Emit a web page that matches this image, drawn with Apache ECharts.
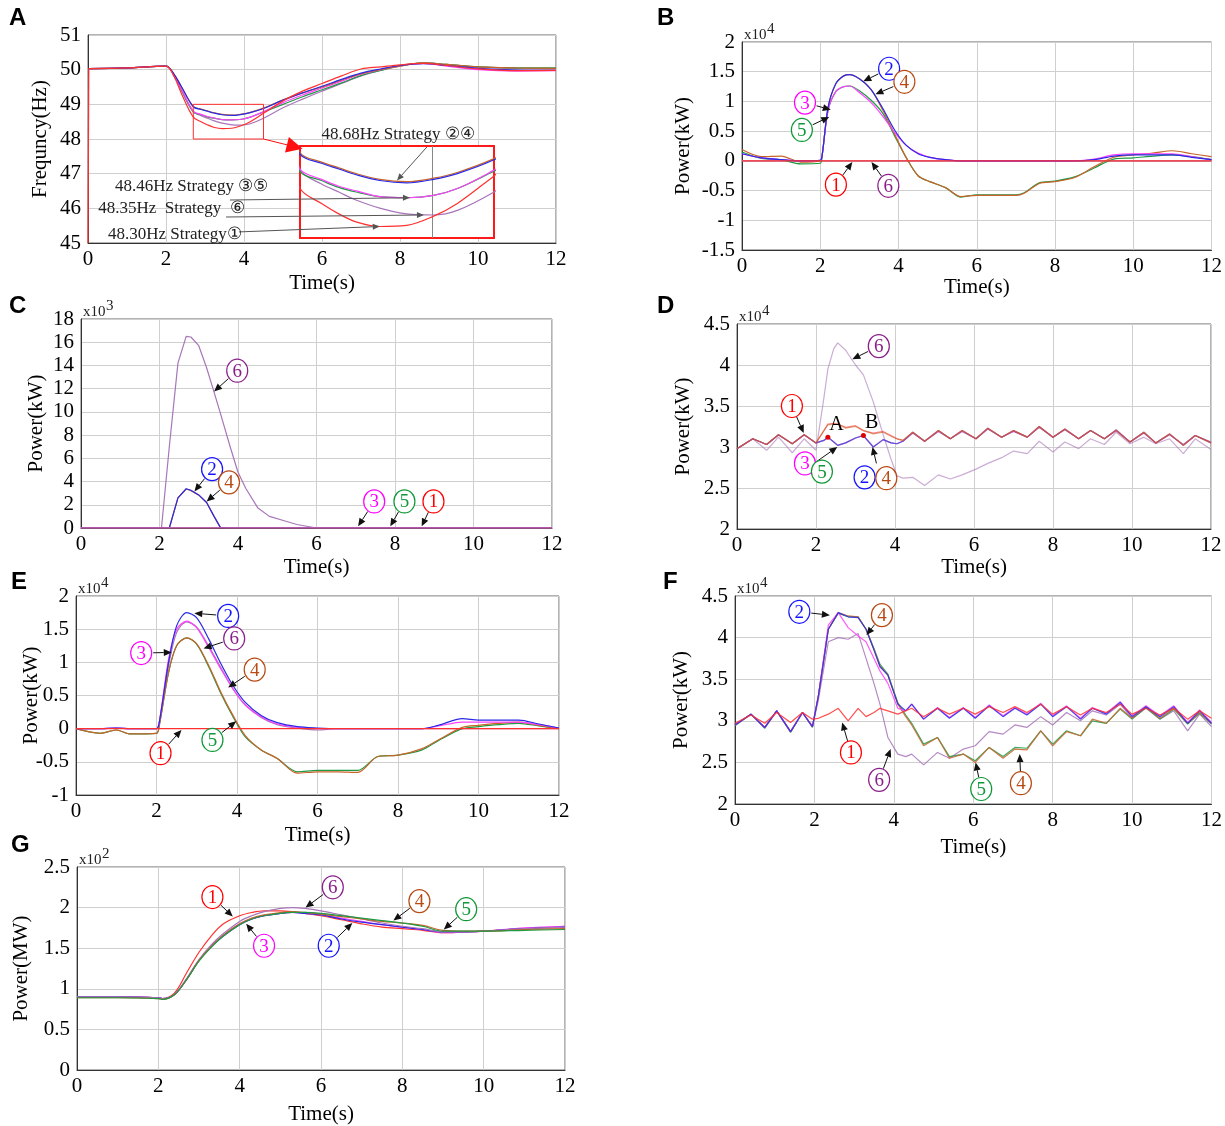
<!DOCTYPE html>
<html>
<head>
<meta charset="utf-8">
<script src="https://cdn.jsdelivr.net/npm/echarts@6/dist/echarts.min.js"></script>
<style>
html, body { margin: 0; padding: 0; background: #fff; }
#main { width: 1225px; height: 1126px; }
</style>
</head>
<body>
<div id="main"></div>
<script>
// ---- A: frequency (Hz) ----
const aStartTime = [0, 0.02];
const aStart = [45, 50.03];
const aTime = [0.02, 1, 2, 2.2, 2.4, 2.7, 2.9, 3.06, 3.22, 3.44, 3.69, 3.94, 4.16, 4.5, 5, 5.5, 6, 6.5, 7, 7.5, 8, 8.6, 9.2, 10, 11, 12];
const aS1 = [50.03, 50.05, 50.1, 49.82, 49.3, 48.63, 48.50, 48.41, 48.34, 48.30, 48.31, 48.39, 48.50, 48.74, 49.1, 49.38, 49.6, 49.82, 50.02, 50.08, 50.14, 50.18, 50.12, 50.02, 49.97, 49.98];
const aS2 = [50.03, 50.05, 50.1, 49.88, 49.5, 48.93, 48.85, 48.80, 48.75, 48.70, 48.68, 48.71, 48.76, 48.88, 49.12, 49.33, 49.52, 49.72, 49.9, 50.02, 50.12, 50.17, 50.12, 50.04, 49.99, 49.98];
const aS3 = [50.03, 50.05, 50.1, 49.85, 49.42, 48.80, 48.71, 48.65, 48.61, 48.56, 48.55, 48.57, 48.63, 48.79, 49.05, 49.27, 49.47, 49.67, 49.87, 50.0, 50.12, 50.18, 50.1, 50.0, 49.96, 49.97];
const aS4 = [50.03, 50.05, 50.1, 49.88, 49.5, 48.94, 48.86, 48.81, 48.76, 48.71, 48.69, 48.72, 48.77, 48.89, 49.13, 49.33, 49.5, 49.7, 49.88, 50.0, 50.1, 50.2, 50.15, 50.08, 50.05, 50.04];
const aS5 = [50.03, 50.05, 50.1, 49.85, 49.4, 48.78, 48.70, 48.64, 48.60, 48.56, 48.55, 48.57, 48.63, 48.78, 49.0, 49.22, 49.42, 49.62, 49.83, 49.98, 50.12, 50.2, 50.15, 50.08, 50.05, 50.05];
const aS6 = [50.03, 50.05, 50.1, 49.85, 49.4, 48.79, 48.67, 48.60, 48.53, 48.46, 48.41, 48.40, 48.44, 48.60, 48.9, 49.15, 49.38, 49.6, 49.82, 49.98, 50.1, 50.2, 50.15, 50.08, 50.03, 50.02];

// ---- B (x10^4 kW) ----
const bTime = [0, 0.5, 1, 1.5, 2, 2.05, 2.2, 2.4, 2.6, 2.75, 3.0, 3.3, 3.6, 3.9, 4.2, 4.5, 4.8, 5.2, 5.6, 6, 6.5, 7, 7.2, 7.6, 8, 8.5, 9, 9.5, 10, 10.5, 11, 11.5, 12];
const bS1 = [0, 0, 0, 0, 0, 0, 0, 0, 0, 0, 0, 0, 0, 0, 0, 0, 0, 0, 0, 0, 0, 0, 0, 0, 0, 0, 0, 0, 0, 0, 0, 0, 0];
const bS2 = [0.12, 0.05, 0.02, 0, 0.01, 0.1, 0.9, 1.3, 1.43, 1.45, 1.38, 1.2, 0.88, 0.52, 0.26, 0.12, 0.06, 0.02, 0, 0, 0, 0, 0, 0, 0, 0, 0.02, 0.08, 0.1, 0.1, 0.1, 0.06, 0.02];
const bS3 = [0.12, 0.05, 0.02, 0, 0.01, 0.1, 0.85, 1.17, 1.25, 1.26, 1.15, 0.98, 0.75, 0.48, 0.26, 0.13, 0.06, 0.02, 0, 0, 0, 0, 0, 0, 0, 0, 0.03, 0.1, 0.12, 0.12, 0.12, 0.07, 0.02];
const bS4 = [0.19, 0.07, 0.08, -0.02, 0, 0.1, 0.9, 1.3, 1.43, 1.45, 1.38, 1.2, 0.85, 0.45, 0.05, -0.25, -0.35, -0.45, -0.6, -0.58, -0.58, -0.58, -0.55, -0.38, -0.35, -0.28, -0.1, 0.06, 0.1, 0.13, 0.17, 0.12, 0.07];
const bS5 = [0.15, 0.04, 0.02, -0.05, -0.04, 0.1, 0.85, 1.17, 1.25, 1.26, 1.18, 1.02, 0.8, 0.42, 0.05, -0.25, -0.35, -0.45, -0.61, -0.57, -0.57, -0.57, -0.54, -0.37, -0.34, -0.27, -0.12, 0.03, 0.05, 0.08, 0.1, 0.07, 0.02];
const bS6 = [0, 0, 0, 0, 0, 0, 0, 0, 0, 0, 0, 0, 0, 0, 0, 0, 0, 0, 0, 0, 0, 0, 0, 0, 0, 0, 0, 0, 0, 0, 0, 0, 0];

// ---- C (x10^3 kW) ----
const cTime = [0, 2.05, 2.25, 2.47, 2.68, 2.8, 3.0, 3.2, 3.39, 3.55, 3.8, 4.0, 4.2, 4.5, 4.8, 5.2, 5.5, 6.0, 12];
const cS1 = [0, 0, 0, 0, 0, 0, 0, 0, 0, 0, 0, 0, 0, 0, 0, 0, 0, 0, 0];
const cS2 = [0, 0, 0, 2.6, 3.38, 3.25, 2.85, 2.2, 1.0, 0.05, 0, 0, 0, 0, 0, 0, 0, 0, 0];
const cS3 = [0, 0, 0, 0, 0, 0, 0, 0, 0, 0, 0, 0, 0, 0, 0, 0, 0, 0, 0];
const cS4 = [0, 0, 0, 2.6, 3.36, 3.22, 2.83, 2.2, 1.0, 0.05, 0, 0, 0, 0, 0, 0, 0, 0, 0];
const cS5 = [0, 0, 0, 0, 0, 0, 0, 0, 0, 0, 0, 0, 0, 0, 0, 0, 0, 0, 0];
const cS6 = [0, 0, 7, 14.2, 16.5, 16.45, 15.7, 13.8, 11.7, 9.9, 7.0, 4.8, 3.4, 1.75, 1.0, 0.6, 0.3, 0, 0];

// ---- D (x10^4 kW) ----
const dTime = [0, 0.4, 0.75, 1.05, 1.4, 1.7, 2.0, 2.2, 2.3, 2.45, 2.55, 2.75, 3.0, 3.2, 3.45, 3.7, 3.9, 4.05, 4.2, 4.45, 4.75, 5.1, 5.4, 5.7, 6.05, 6.35, 6.7, 7.0, 7.35, 7.65, 8.0, 8.3, 8.65, 8.95, 9.3, 9.6, 9.95, 10.3, 10.6, 10.95, 11.3, 11.6, 12];
const dS1 = [2.98, 3.1, 3.03, 3.15, 3.04, 3.15, 3.05, 3.2, 3.28, 3.29, 3.28, 3.24, 3.26, 3.2, 3.17, 3.19, 3.14, 3.1, 3.08, 3.18, 3.07, 3.2, 3.1, 3.2, 3.1, 3.23, 3.12, 3.2, 3.12, 3.25, 3.12, 3.22, 3.1, 3.2, 3.1, 3.2, 3.06, 3.18, 3.05, 3.16, 3.02, 3.14, 3.05];
const dS2 = [2.98, 3.1, 3.03, 3.15, 3.04, 3.15, 3.05, 3.08, 3.12, 3.06, 3.02, 3.05, 3.11, 3.14, 3.0, 3.09, 3.05, 3.04, 3.07, 3.18, 3.07, 3.2, 3.1, 3.2, 3.1, 3.23, 3.12, 3.2, 3.12, 3.25, 3.12, 3.22, 3.1, 3.2, 3.1, 3.2, 3.06, 3.18, 3.05, 3.16, 3.02, 3.14, 3.05];
const dS3 = [2.98, 3.1, 3.03, 3.15, 3.04, 3.15, 3.05, 3.08, 3.12, 3.06, 3.02, 3.05, 3.11, 3.14, 3.0, 3.09, 3.05, 3.04, 3.07, 3.17, 3.07, 3.19, 3.1, 3.19, 3.1, 3.22, 3.12, 3.19, 3.12, 3.24, 3.12, 3.21, 3.1, 3.2, 3.1, 3.21, 3.06, 3.17, 3.05, 3.15, 3.03, 3.14, 3.06];
const dS4 = [2.98, 3.1, 3.03, 3.15, 3.04, 3.15, 3.05, 3.2, 3.27, 3.28, 3.28, 3.23, 3.25, 3.2, 3.16, 3.18, 3.13, 3.1, 3.08, 3.18, 3.07, 3.2, 3.1, 3.2, 3.1, 3.23, 3.12, 3.2, 3.12, 3.25, 3.12, 3.22, 3.1, 3.2, 3.1, 3.2, 3.06, 3.18, 3.05, 3.16, 3.02, 3.14, 3.05];
const dS5 = [2.98, 3.1, 3.03, 3.15, 3.04, 3.15, 3.05, 3.08, 3.12, 3.06, 3.02, 3.05, 3.11, 3.14, 3.0, 3.09, 3.05, 3.04, 3.07, 3.17, 3.07, 3.19, 3.1, 3.19, 3.1, 3.22, 3.12, 3.19, 3.12, 3.24, 3.12, 3.21, 3.1, 3.2, 3.1, 3.21, 3.06, 3.17, 3.05, 3.15, 3.03, 3.14, 3.06];
const dS6 = [2.98, 3.1, 2.96, 3.12, 2.93, 3.1, 2.96, 3.6, 3.95, 4.2, 4.27, 4.18, 4.0, 3.88, 3.55, 3.15, 2.85, 2.65, 2.62, 2.63, 2.53, 2.66, 2.61, 2.66, 2.73, 2.8, 2.87, 2.95, 2.92, 3.07, 2.94, 3.06, 2.98, 3.1, 3.03, 3.18, 3.04, 3.12, 3.04, 3.1, 2.92, 3.1, 2.97];
const dMarks = [['A', 8], ['B', 13]];

// ---- E (x10^4 kW) ----
const eTime = [0, 0.6, 1.0, 1.35, 2.0, 2.07, 2.3, 2.5, 2.75, 3.0, 3.3, 3.6, 3.9, 4.2, 4.6, 5.0, 5.5, 6.0, 6.5, 7.0, 7.5, 8.0, 8.6, 9.0, 9.6, 10, 10.5, 11, 11.5, 12];
const eS1 = [0, 0, 0, 0, 0, 0, 0, 0, 0, 0, 0, 0, 0, 0, 0, 0, 0, 0, 0, 0, 0, 0, 0, 0, 0, 0, 0, 0, 0, 0];
const eS2 = [0, 0, 0.01, 0, 0, 0.1, 1.0, 1.55, 1.75, 1.67, 1.35, 0.98, 0.65, 0.4, 0.2, 0.09, 0.03, 0.01, 0, 0, 0, 0, 0, 0.05, 0.15, 0.13, 0.13, 0.13, 0.07, 0.01];
const eS3 = [0, 0, 0.01, 0, 0, 0.1, 1.05, 1.5, 1.62, 1.52, 1.22, 0.9, 0.6, 0.36, 0.18, 0.07, 0.02, 0, 0, 0, 0, 0, 0, 0.04, 0.1, 0.1, 0.1, 0.1, 0.06, 0.01];
const eS4 = [0, -0.07, -0.02, -0.08, -0.07, 0.05, 0.85, 1.25, 1.37, 1.28, 0.95, 0.55, 0.2, -0.1, -0.32, -0.45, -0.67, -0.65, -0.65, -0.66, -0.42, -0.4, -0.3, -0.17, 0.02, 0.05, 0.08, 0.1, 0.05, 0];
const eS5 = [0, -0.07, -0.02, -0.08, -0.07, 0.05, 0.85, 1.25, 1.37, 1.27, 0.93, 0.53, 0.18, -0.12, -0.32, -0.45, -0.65, -0.63, -0.63, -0.63, -0.42, -0.4, -0.32, -0.18, 0, 0.03, 0.06, 0.08, 0.04, 0];
const eS6 = [0, 0, 0.01, 0, 0, 0.1, 0.95, 1.45, 1.61, 1.53, 1.24, 0.92, 0.6, 0.36, 0.17, 0.06, 0.01, -0.02, 0, 0, 0, 0, 0, 0, 0, 0, 0, 0, 0, 0];

// ---- F (x10^4 kW) ----
const fTime = [0, 0.4, 0.75, 1.05, 1.4, 1.7, 1.95, 2.1, 2.35, 2.6, 2.85, 3.1, 3.3, 3.5, 3.65, 3.85, 4.1, 4.3, 4.45, 4.75, 5.1, 5.4, 5.75, 6.05, 6.4, 6.75, 7.05, 7.35, 7.7, 8.0, 8.35, 8.7, 9.0, 9.35, 9.7, 10.0, 10.35, 10.7, 11.05, 11.4, 11.7, 12];
const fS1 = [2.97, 3.07, 2.97, 3.1, 2.98, 3.1, 3.02, 3.03, 3.08, 3.15, 3.0, 3.15, 3.05, 3.1, 3.15, 3.12, 3.08, 3.12, 3.15, 3.05, 3.15, 3.08, 3.15, 3.08, 3.17, 3.1, 3.17, 3.1, 3.2, 3.08, 3.17, 3.07, 3.15, 3.1, 3.2, 3.08, 3.15, 3.07, 3.15, 3.02, 3.12, 3.03];
const fS2 = [2.95, 3.08, 2.92, 3.12, 2.87, 3.1, 2.93, 3.3, 4.1, 4.3, 4.25, 4.24, 4.1, 3.85, 3.65, 3.55, 3.2, 3.12, 3.2, 3.02, 3.15, 3.03, 3.15, 3.03, 3.18, 3.05, 3.15, 3.07, 3.2, 3.05, 3.17, 3.02, 3.15, 3.08, 3.22, 3.05, 3.17, 3.05, 3.17, 2.97, 3.12, 2.97];
const fS3 = [2.95, 3.08, 2.92, 3.12, 2.87, 3.1, 2.93, 3.3, 4.15, 4.3, 4.12, 4.02, 3.95, 3.75, 3.6, 3.45, 3.15, 3.12, 3.2, 3.02, 3.16, 3.04, 3.16, 3.04, 3.19, 3.06, 3.16, 3.08, 3.21, 3.06, 3.18, 3.03, 3.16, 3.09, 3.23, 3.06, 3.18, 3.06, 3.18, 2.98, 3.13, 2.98];
const fS4 = [2.95, 3.08, 2.92, 3.12, 2.87, 3.1, 2.93, 3.3, 4.1, 4.3, 4.26, 4.25, 4.1, 3.86, 3.66, 3.55, 3.2, 3.05, 2.95, 2.7, 2.8, 2.55, 2.6, 2.5, 2.68, 2.55, 2.66, 2.65, 2.88, 2.7, 2.87, 2.82, 3.02, 2.97, 3.15, 3.03, 3.17, 3.03, 3.15, 2.97, 3.1, 2.97];
const fS5 = [2.94, 3.08, 2.91, 3.12, 2.86, 3.1, 2.92, 3.3, 4.1, 4.29, 4.25, 4.25, 4.1, 3.87, 3.68, 3.56, 3.22, 3.07, 2.97, 2.72, 2.8, 2.57, 2.6, 2.52, 2.68, 2.57, 2.68, 2.67, 2.88, 2.72, 2.88, 2.82, 3.0, 2.97, 3.14, 3.02, 3.16, 3.02, 3.14, 2.96, 3.09, 2.96];
const fS6 = [2.95, 3.08, 2.92, 3.12, 2.87, 3.1, 2.93, 3.25, 3.95, 4.0, 3.98, 4.05, 3.75, 3.45, 3.2, 2.8, 2.6, 2.57, 2.6, 2.47, 2.62, 2.55, 2.66, 2.7, 2.87, 2.84, 2.95, 2.92, 3.05, 2.95, 3.1, 3.0, 3.12, 3.07, 3.2, 3.03, 3.15, 3.02, 3.12, 2.88, 3.08, 2.93];

// ---- G (x10^2 MW) ----
const gTime = [0, 1, 2, 2.1, 2.4, 2.7, 3, 3.3, 3.6, 4, 4.3, 4.6, 5, 5.3, 5.6, 6, 6.5, 7, 7.5, 8, 8.5, 9, 9.5, 10, 11, 12];
const gS1 = [0.9, 0.9, 0.89, 0.88, 0.95, 1.2, 1.45, 1.65, 1.8, 1.9, 1.94, 1.96, 1.96, 1.95, 1.93, 1.9, 1.85, 1.8, 1.76, 1.74, 1.72, 1.69, 1.7, 1.71, 1.74, 1.77];
const gS2 = [0.9, 0.9, 0.89, 0.88, 0.93, 1.12, 1.35, 1.52, 1.65, 1.79, 1.86, 1.9, 1.93, 1.94, 1.93, 1.91, 1.86, 1.82, 1.79, 1.76, 1.73, 1.7, 1.7, 1.71, 1.74, 1.76];
const gS3 = [0.9, 0.9, 0.89, 0.88, 0.93, 1.12, 1.35, 1.52, 1.66, 1.8, 1.86, 1.9, 1.93, 1.94, 1.93, 1.91, 1.87, 1.83, 1.79, 1.76, 1.73, 1.69, 1.7, 1.71, 1.75, 1.77];
const gS4 = [0.89, 0.89, 0.88, 0.87, 0.93, 1.12, 1.35, 1.52, 1.66, 1.8, 1.87, 1.91, 1.94, 1.95, 1.94, 1.92, 1.89, 1.86, 1.83, 1.81, 1.78, 1.72, 1.71, 1.71, 1.73, 1.74];
const gS5 = [0.89, 0.89, 0.88, 0.87, 0.93, 1.12, 1.34, 1.51, 1.65, 1.79, 1.86, 1.9, 1.93, 1.94, 1.94, 1.93, 1.9, 1.87, 1.84, 1.81, 1.77, 1.71, 1.71, 1.71, 1.72, 1.73];
const gS6 = [0.9, 0.9, 0.89, 0.88, 0.93, 1.13, 1.36, 1.54, 1.68, 1.83, 1.9, 1.95, 1.99, 2.0, 1.99, 1.96, 1.91, 1.86, 1.81, 1.77, 1.74, 1.7, 1.7, 1.71, 1.74, 1.76];

// circled labels: [strategy, label position, arrow tip, optional arrow tail]
const bNotes = [[2, [3.76, 1.55], [3.1, 1.34]], [4, [4.15, 1.33], [3.41, 1.12]], [3, [1.61, 0.98], [2.27, 0.86]], [5, [1.53, 0.52], [2.23, 0.74]], [1, [2.4, -0.4], [2.82, -0.02]], [6, [3.74, -0.42], [3.31, -0.02]]];
const cNotes = [[6, [3.98, 13.55], [3.39, 11.75]], [2, [3.34, 5.07], [2.89, 3.15]], [4, [3.77, 3.93], [3.2, 2.29]], [3, [7.47, 2.29], [7.06, 0.14]], [5, [8.24, 2.29], [7.88, 0.14]], [1, [8.98, 2.29], [8.68, 0.14]]];
const dNotes = [[1, [1.39, 3.5], [1.69, 3.17]], [6, [3.59, 4.23], [2.92, 4.07]], [3, [1.72, 2.8]], [5, [2.15, 2.7], [2.54, 3.0], [1.95, 2.8]], [2, [3.23, 2.63]], [4, [3.78, 2.62], [3.43, 3.0], [3.53, 2.8]]];
const eNotes = [[2, [3.78, 1.7], [2.94, 1.74]], [6, [3.93, 1.36], [3.17, 1.21]], [3, [1.62, 1.14], [2.38, 1.15]], [4, [4.44, 0.89], [3.78, 0.62]], [1, [2.1, -0.37], [2.62, -0.02]], [5, [3.39, -0.17], [3.98, 0.11]]];
const fNotes = [[2, [1.62, 4.31], [2.39, 4.27]], [4, [3.7, 4.27], [3.31, 4.03]], [1, [2.92, 2.62], [2.7, 2.98]], [6, [3.63, 2.29], [3.92, 2.66]], [5, [6.2, 2.18], [6.06, 2.5]], [4, [7.2, 2.25], [7.17, 2.6]]];
const gNotes = [[1, [3.33, 2.13], [3.83, 1.89]], [6, [6.29, 2.25], [5.62, 2.0]], [4, [8.42, 2.08], [7.78, 1.84]], [5, [9.57, 1.98], [9.02, 1.73]], [3, [4.6, 1.53], [4.16, 1.8]], [2, [6.19, 1.53], [6.77, 1.81]]];

// panel A texts: text, position, arrow tail (main grid), arrow tip (inset grid)
const aTexts = [
  ['48.68Hz Strategy ②④', [7.95, 48.12], [8.69, 47.77], [3.6, 48.70], 'center'],
  ['48.46Hz Strategy ③⑤', [0.69, 46.62], [3.64, 46.24], [3.72, 48.55], 'left'],
  ['48.35Hz  Strategy  ⑥', [0.26, 45.98], [3.54, 45.75], [3.85, 48.40], 'left'],
  ['48.30Hz Strategy①', [0.51, 45.23], [3.87, 45.32], [3.44, 48.30], 'left']
];
const zoomWin = [2.7, 4.5, 48, 49];
const insetY = [48.2, 49.0];
const insetMark = 3.93;

const SERIF = '"Liberation Serif", "DejaVu Serif", serif';
const lineColors = ['#ff3030', '#2a2ae6', '#ff40ff', '#c8642a', '#1f9a45', '#a875b8'];
const labelColors = ['#ff0000', '#1414ff', '#ff00ff', '#b84a14', '#109838', '#8a1f8a'];

const panels = [
  { letter: 'A', lxy: [9, 6], box: [88, 35, 468, 208], y: [45, 51, 1], yName: 'Frequncy(Hz)', yGap: 37, xGap: 30, exp: null, alpha: 1,
    t: aTime, s: [aS1, aS2, aS3, aS4, aS5, aS6], order: [5, 4, 2, 3, 1, 0], smooth: 0.35, notes: [] },
  { letter: 'B', lxy: [657, 6], box: [742, 42, 470, 208], y: [-1.5, 2, 0.5], yName: 'Power(kW)', yGap: 48, xGap: 27, exp: '4', alpha: 1,
    t: bTime, s: [bS1, bS2, bS3, bS4, bS5, bS6], order: [5, 4, 3, 2, 1, 0], smooth: 0.3, notes: bNotes },
  { letter: 'C', lxy: [9, 294], box: [81, 319, 471, 209], y: [0, 18, 2], yName: 'Power(kW)', yGap: 34, xGap: 29, exp: '3', alpha: 1,
    t: cTime, s: [cS1, cS2, cS3, cS4, cS5, cS6], order: [5, 3, 1, 0, 4, 2], smooth: false, notes: cNotes },
  { letter: 'D', lxy: [657, 294], box: [737, 324, 474, 205], y: [2, 4.5, 0.5], yName: 'Power(kW)', yGap: 43, xGap: 28, exp: '4', alpha: 0.6,
    t: dTime, s: [dS1, dS2, dS3, dS4, dS5, dS6], order: [5, 4, 2, 1, 0, 3], smooth: false, notes: dNotes },
  { letter: 'E', lxy: [11, 570], box: [76, 596, 483, 199], y: [-1, 2, 0.5], yName: 'Power(kW)', yGap: 34, xGap: 30, exp: '4', alpha: 1,
    t: eTime, s: [eS1, eS2, eS3, eS4, eS5, eS6], order: [5, 4, 3, 2, 1, 0], smooth: 0.3, notes: eNotes },
  { letter: 'F', lxy: [663, 570], box: [735, 596, 481, 208], y: [2, 4.5, 0.5], yName: 'Power(kW)', yGap: 43, xGap: 33, exp: '4', alpha: 0.85,
    t: fTime, s: [fS1, fS2, fS3, fS4, fS5, fS6], order: [5, 4, 3, 2, 1, 0], smooth: false, notes: fNotes },
  { letter: 'G', lxy: [11, 833], box: [77, 867, 488, 206], y: [0, 2.5, 0.5], yName: 'Power(MW)', yGap: 45, xGap: 34, exp: '2', alpha: 1,
    t: gTime, s: [gS1, gS2, gS3, gS4, gS5, gS6], order: [0, 2, 1, 5, 3, 4], smooth: 0.35, notes: gNotes }
];

function pairs(t, v) { return t.map((x, i) => [x, v[i]]); }

const grids = [], xAxes = [], yAxes = [], series = [];
panels.forEach((p, gi) => {
  grids.push({ left: p.box[0], top: p.box[1], width: p.box[2], height: p.box[3], show: true, borderColor: '#666', borderWidth: 1 });
  xAxes.push({
    gridIndex: gi, type: 'value', min: 0, max: 12, interval: 2,
    name: 'Time(s)', nameLocation: 'middle', nameGap: p.xGap, nameMoveOverlap: false,
    nameTextStyle: { fontFamily: SERIF, fontSize: 21, color: '#000' },
    axisLine: { show: true, onZero: false, lineStyle: { color: '#333' } },
    axisTick: { show: false },
    axisLabel: { fontFamily: SERIF, fontSize: 21, color: '#000', margin: 6 },
    splitLine: { show: true, lineStyle: { color: '#cfcfcf' } }
  });
  yAxes.push({
    gridIndex: gi, type: 'value', min: p.y[0], max: p.y[1], interval: p.y[2],
    name: p.yName, nameLocation: 'middle', nameGap: p.yGap, nameMoveOverlap: false,
    nameTextStyle: { fontFamily: SERIF, fontSize: 21, color: '#000' },
    axisLine: { show: true, onZero: false, lineStyle: { color: '#333' } },
    axisTick: { show: false },
    axisLabel: { fontFamily: SERIF, fontSize: 21, color: '#000', margin: 7 },
    splitLine: { show: true, lineStyle: { color: '#cfcfcf' } }
  });
  p.order.forEach(k => {
    const s = {
      type: 'line', xAxisIndex: gi, yAxisIndex: gi, data: pairs(p.t, p.s[k]),
      showSymbol: false, smooth: p.smooth, silent: true,
      lineStyle: { color: lineColors[k], width: 1.2, opacity: p.alpha },
      z: 2
    };
    if (gi === 3 && k === 1) {
      s.markPoint = {
        symbol: 'circle', symbolSize: 5, silent: true,
        itemStyle: { color: '#e00000' },
        label: { show: true, formatter: m => m.name, position: [4, -20], fontFamily: SERIF, fontSize: 20, color: '#000' },
        data: dMarks.map(m => ({ name: m[0], coord: [dTime[m[1]], dS2[m[1]]] }))
      };
    }
    series.push(s);
  });
});
// initial transient of panel A (strategy 1)
series.push({
  type: 'line', xAxisIndex: 0, yAxisIndex: 0, data: pairs(aStartTime, aStart),
  showSymbol: false, silent: true, lineStyle: { color: lineColors[0], width: 1.2 }, z: 2
});

// inset of panel A (zoomed window)
const insetIdx = panels.length;
grids.push({ left: 300, top: 146, width: 194, height: 92, show: true, backgroundColor: '#fff', borderColor: '#ff1a1a', borderWidth: 2, z: 5 });
xAxes.push({ gridIndex: insetIdx, type: 'value', min: zoomWin[0], max: zoomWin[1], show: false, splitLine: { show: false }, z: 5 });
yAxes.push({ gridIndex: insetIdx, type: 'value', min: insetY[0], max: insetY[1], show: false, splitLine: { show: false }, z: 5 });
panels[0].order.forEach((k, j) => {
  const s = {
    type: 'line', xAxisIndex: insetIdx, yAxisIndex: insetIdx, data: pairs(aTime, panels[0].s[k]),
    showSymbol: false, smooth: 0.35, silent: true, clip: true,
    lineStyle: { color: lineColors[k], width: 1.2 }, z: 6
  };
  if (j === 0) {
    s.markLine = { silent: true, symbol: 'none', label: { show: false }, lineStyle: { color: '#888', type: 'solid', width: 1 }, data: [{ xAxis: insetMark }] };
  }
  series.push(s);
});

const chart = echarts.init(document.getElementById('main'), null, { renderer: 'canvas' });
chart.setOption({
  backgroundColor: '#fff',
  animation: false,
  grid: grids, xAxis: xAxes, yAxis: yAxes, series: series
});

// ---- annotations ----
function px(gi, p) { return chart.convertToPixel({ gridIndex: gi }, p); }
function arrow(f, t, color, hl, hw, lw) {
  const dx = t[0] - f[0], dy = t[1] - f[1], L = Math.hypot(dx, dy), ux = dx / L, uy = dy / L;
  const bx = t[0] - ux * hl, by = t[1] - uy * hl;
  return [
    { type: 'line', z: 100, silent: true, shape: { x1: f[0], y1: f[1], x2: bx, y2: by }, style: { stroke: color, lineWidth: lw } },
    { type: 'polygon', z: 100, silent: true, shape: { points: [[t[0], t[1]], [bx - uy * hw, by + ux * hw], [bx + uy * hw, by - ux * hw]] }, style: { fill: color } }
  ];
}
function txt(x, y, text, font, fill, align, valign) {
  return { type: 'text', z: 101, silent: true, x: x, y: y,
    style: { text: text, font: font, fill: fill, align: align, verticalAlign: valign, textAlign: align, textVerticalAlign: valign } };
}

const gfx = [];
panels.forEach((p, gi) => {
  gfx.push(txt(p.lxy[0], p.lxy[1], p.letter, 'bold 24px "Liberation Sans", Arial, sans-serif', '#000', 'left', 'top'));
  if (p.exp) {
    gfx.push(txt(p.box[0] + 2, p.box[1] + 1, 'x10', '15px ' + SERIF, '#222', 'left', 'bottom'));
    gfx.push(txt(p.box[0] + 25, p.box[1] - 5, p.exp, '15px ' + SERIF, '#222', 'left', 'bottom'));
  }
  p.notes.forEach(n => {
    const c = px(gi, n[1]);
    const col = labelColors[n[0] - 1];
    if (n[2]) {
      const t = px(gi, n[2]);
      let f;
      if (n[3]) f = px(gi, n[3]);
      else {
        const dx = t[0] - c[0], dy = t[1] - c[1], L = Math.hypot(dx, dy);
        f = [c[0] + dx / L * 12, c[1] + dy / L * 12];
      }
      gfx.push(...arrow(f, t, '#111', 8, 3.5, 1));
    }
    gfx.push({ type: 'ellipse', z: 102, silent: true, shape: { cx: c[0], cy: c[1], rx: 10.5, ry: 11.5 }, style: { fill: '#fff', stroke: col, lineWidth: 1.2 } });
    gfx.push(Object.assign(txt(c[0], c[1] + 1, String(n[0]), '19px ' + SERIF, col, 'center', 'middle'), { z: 103 }));
  });
});

// panel A: zoom window, red pointer, strategy texts with leader arrows
const r0 = px(0, [zoomWin[0], zoomWin[3]]), r1 = px(0, [zoomWin[1], zoomWin[2]]);
gfx.push({ type: 'rect', z: 100, silent: true, shape: { x: r0[0], y: r0[1], width: r1[0] - r0[0], height: r1[1] - r0[1] }, style: { fill: 'none', stroke: '#ff3030', lineWidth: 1 } });
gfx.push(...arrow(r1, px(0, [5.5, 47.72]), '#ff1010', 16, 8, 1));
aTexts.forEach(a => {
  const p = px(0, a[1]);
  gfx.push(txt(p[0], p[1], a[0], '17px ' + SERIF, '#222', a[4], 'middle'));
  gfx.push(...arrow(px(0, a[2]), px(insetIdx, a[3]), '#555', 7, 3, 1));
});

chart.setOption({ graphic: { elements: gfx } });
</script>
</body>
</html>
